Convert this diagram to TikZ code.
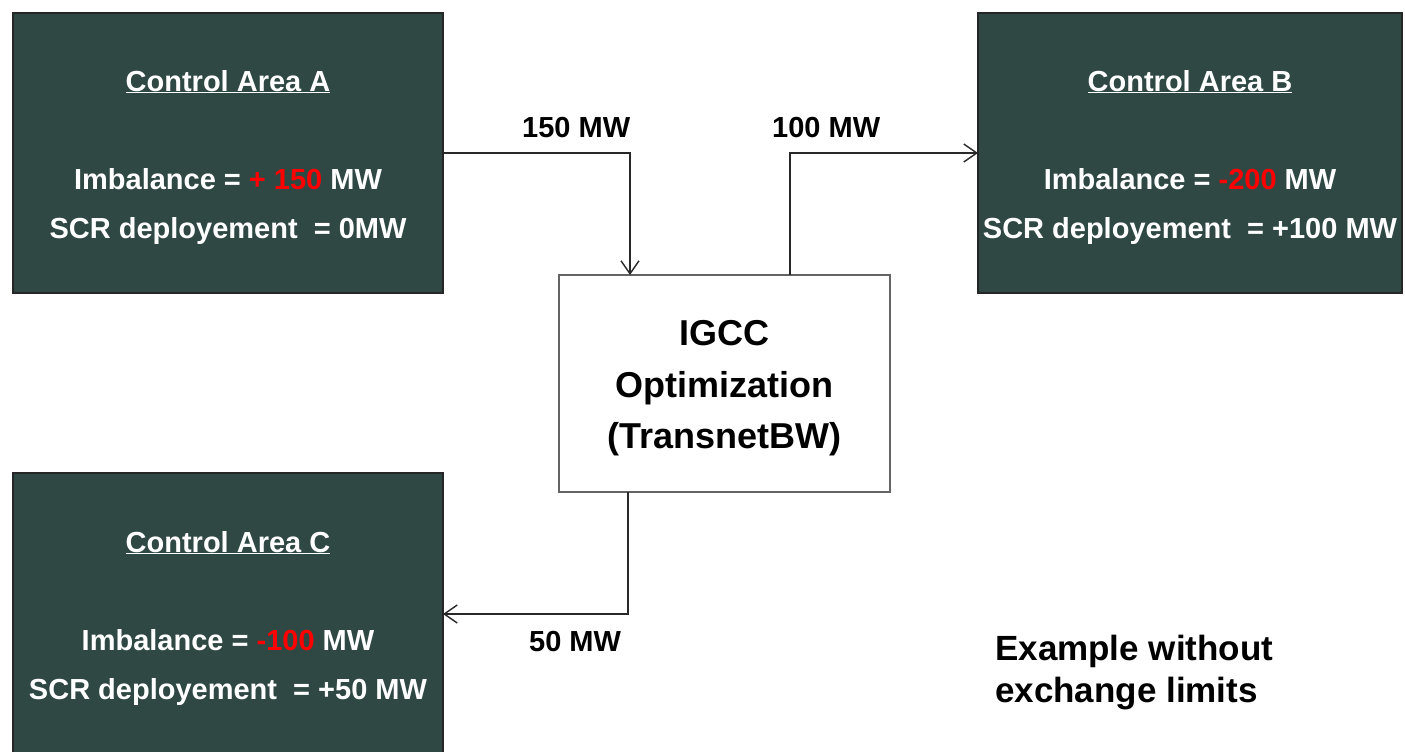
\documentclass[tikz,border=0pt]{standalone}
\usepackage{fontspec}
\setmainfont{Liberation Sans}
\usetikzlibrary{arrows.meta,calc}
\definecolor{boxfill}{RGB}{47,72,68}
\definecolor{mwred}{RGB}{255,0,0}
\definecolor{linegray}{RGB}{40,40,40}
\definecolor{igccborder}{RGB}{100,100,100}
\begin{document}
\begin{tikzpicture}[x=1pt,y=-1pt,
  areabox/.style={draw=black!85, line width=1.2pt, fill=boxfill, inner sep=0pt, outer sep=0pt},
  igccbox/.style={draw=igccborder, line width=1.8pt, fill=white, inner sep=0pt, outer sep=0pt,
                  minimum width=331pt, minimum height=217pt},
  wtxt/.style={text=white, font=\bfseries\fontsize{29}{35}\selectfont, anchor=base, inner sep=0pt},
  itxt/.style={text=black, font=\bfseries\fontsize{36}{44}\selectfont, anchor=base, inner sep=0pt},
  lbl/.style={text=black, font=\bfseries\fontsize{29}{35}\selectfont, anchor=base west, inner sep=0pt},
  note/.style={text=black, font=\bfseries\fontsize{35}{42}\selectfont, anchor=base west, inner sep=0pt},
  flow/.style={draw=linegray, line width=1.3pt, -{Straight Barb[length=13pt,width=18pt,line width=1.4pt]}}
]
\useasboundingbox (0,0) rectangle (1405,752);
\clip (0,0) rectangle (1405,752);

% control area boxes
\node[areabox, minimum width=430pt, minimum height=280pt] (A) at (228,153) {};
\node[areabox, minimum width=424pt, minimum height=280pt] (B) at (1190,153) {};
\node[areabox, minimum width=430pt, minimum height=282pt] (C) at (228,614) {};

% IGCC box
\node[igccbox] (I) at (724.5,383.5) {};

% texts of A
\node[wtxt] (At) at (228,91) {\underline{Control Area A}};
\node[wtxt] (Ai) at (228,189) {Imbalance = {\color{mwred}+ 150} MW};
\node[wtxt] (As) at (228,238) {SCR deployement~ = 0MW};

% texts of B
\node[wtxt] (Bt) at (1190,91) {\underline{Control Area B}};
\node[wtxt] (Bi) at (1190,189) {Imbalance = {\color{mwred}-200} MW};
\node[wtxt] (Bs) at (1190,238) {SCR deployement~ = +100 MW};

% texts of C
\node[wtxt] (Ct) at (228,552) {\underline{Control Area C}};
\node[wtxt] (Ci) at (228,650) {Imbalance = {\color{mwred}-100} MW};
\node[wtxt] (Cs) at (228,699) {SCR deployement~ = +50 MW};

% IGCC texts
\node[itxt] (I1) at (724.5,345) {IGCC};
\node[itxt] (I2) at (724.5,397) {Optimization};
\node[itxt] (I3) at (724.5,448) {(TransnetBW)};

% flows
\draw[flow] (A.east) -| ([xshift=-94.5pt]I.north);
\draw[flow] ([xshift=65.5pt]I.north) |- (B.west);
\draw[flow] ([xshift=-96.5pt]I.south) |- (C.east);

% flow labels
\node[lbl] (L1) at (522,137) {150 MW};
\node[lbl] (L2) at (772,137) {100 MW};
\node[lbl] (L3) at (529,651) {50 MW};

% note
\node[note] (N1) at (995,660) {Example without};
\node[note] (N2) at (995,702) {exchange limits};
\end{tikzpicture}
\end{document}
